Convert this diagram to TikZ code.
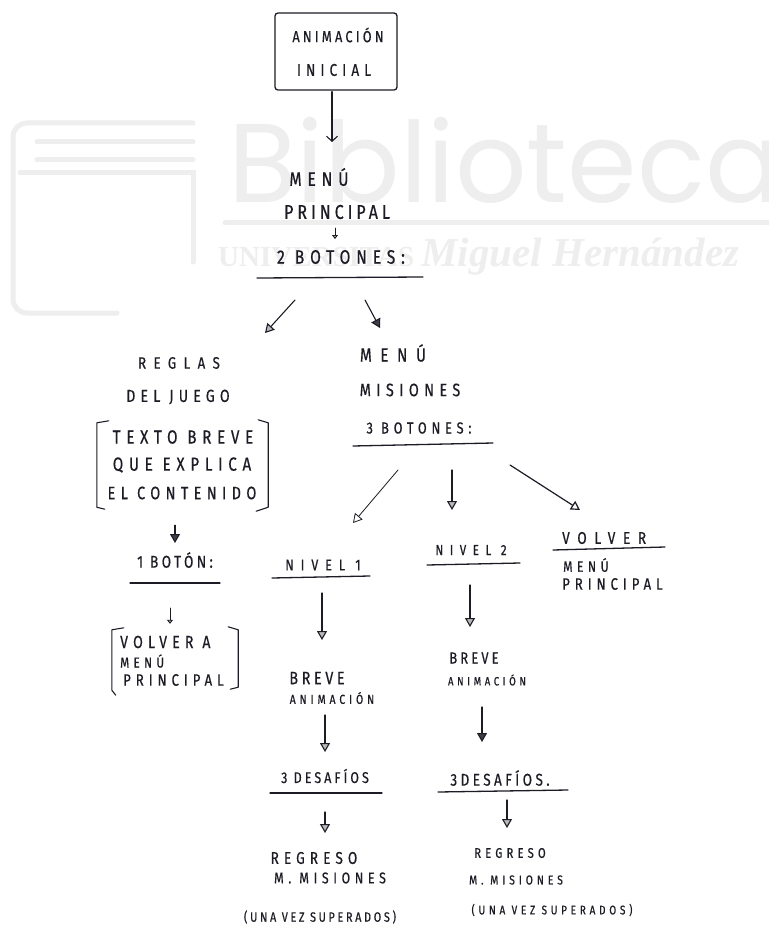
\documentclass[tikz,border=0pt]{standalone}
\usepackage{fontspec}
\usetikzlibrary{arrows.meta,calc}
\newfontfamily\hB[LetterSpace=20,FakeStretch=0.8,FakeBold=0.5]{Fira Sans}
\newfontfamily\hC[LetterSpace=30,FakeStretch=0.8,FakeBold=0.5]{Fira Sans}
\newfontfamily\hD[LetterSpace=45,FakeStretch=0.8,FakeBold=0.5]{Fira Sans}
\newfontfamily\wmsans{Poppins}
\newfontfamily\wmserif{Liberation Serif}
\definecolor{inkc}{RGB}{28,28,38}
\definecolor{wmc}{RGB}{238,238,238}
\tikzset{
  hw/.style 2 args={font=#1\fontsize{#2}{#2}\selectfont, inner sep=0pt, text=inkc},
  ink/.style={draw=inkc, line width=1.1pt, line cap=round, line join=round},
  uline/.style={draw=inkc, line width=1.3pt, line cap=round},
  tri/.style={ink, -{Triangle[length=9pt,width=10pt,fill=gray!55]}},
  dtri/.style={ink, -{Triangle[length=9pt,width=10pt,fill=inkc!85]}},
  otri/.style={ink, line width=0.8pt, -{Triangle[open,length=9pt,width=10pt]}},
  barb/.style={ink, -{Straight Barb[length=5pt,width=11pt]}},
  tinyarr/.style={ink, line width=0.9pt, -{Triangle[length=4pt,width=6pt,fill=gray!55]}},
  wm/.style={draw=wmc, line width=5pt, line cap=round},
}
\begin{document}
\begin{tikzpicture}[x=1pt,y=-1pt]
\useasboundingbox[fill=white] (0,0) rectangle (768,933);
% watermark
\draw[wm, rounded corners=14pt] (193,123) -- (13,123) -- (13,313) -- (117,313);
\draw[wm] (20,173) -- (193,173) -- (193,262);
\draw[wm] (37,142) -- (193,142);
\draw[wm] (37,160) -- (193,160);
\node[anchor=base west, inner sep=0pt, text=wmc, font=\wmsans\fontsize{112}{112}\selectfont] (wmtitle) at (228,203) {Biblioteca};
\draw[wm] (225,223) -- (768,223);
\node[anchor=base west, inner sep=0pt, text=wmc, font=\wmserif\bfseries\fontsize{29}{29}\selectfont] (wmuni) at (218,266) {UNIVERSITAS \fontsize{41}{41}\selectfont\itshape Miguel Hernández};
% top box
\node[draw=inkc, line width=1.3pt, rounded corners=3pt, minimum width=122pt, minimum height=77pt, inner sep=0pt] (topbox) at (336,51.5) {};
\node[hw={\hB}{16}] (t0a) at (338,35) {ANIMACIÓN};
\node[hw={\hC}{17}] (t0b) at (334,70) {INICIAL};
% menu principal
\node[hw={\hC}{19.5}] (mp1) at (319,177) {MENÚ};
\node[hw={\hB}{20}] (mp2) at (337,212) {PRINCIPAL};
\node[hw={\hC}{19.5}] (bot2) at (341,257) {2 BOTONES:};
\draw[uline] ($(bot2)+(-84,21)$) -- ($(bot2)+(82,20)$);
% reglas
\node[hw={\hD}{16.5}] (rg1) at (179,363) {REGLAS};
\node[hw={\hC}{17.5}] (rg2) at (178,397) {DEL JUEGO};
\node[inner sep=0pt, minimum width=171pt, minimum height=90pt] (rbox) at (182.5,465) {};
\draw[ink] ([xshift=12pt,yshift=-1pt]rbox.north west) -- ([yshift=-3pt]rbox.north west) -- ([yshift=3pt]rbox.south west) -- ([xshift=8pt,yshift=1pt]rbox.south west);
\draw[ink] ([xshift=-10pt]rbox.north east) -- ([yshift=-3pt]rbox.north east) -- ([yshift=3pt]rbox.south east) -- ([xshift=-12pt,yshift=-1pt]rbox.south east);
\node[hw={\hC}{19}] (tx1) at (183,437) {TEXTO BREVE};
\node[hw={\hC}{19}] (tx2) at (182,465) {QUE EXPLICA};
\node[hw={\hC}{18}] (tx3) at (182,493) {EL CONTENIDO};
\node[hw={\hB}{17}] (b1) at (175,560) {1 BOTÓN:};
\draw[uline] ($(b1)+(-45,23)$) -- ($(b1)+(45,23)$);
\node[inner sep=0pt, minimum width=126pt, minimum height=66pt] (vbox) at (175,660) {};
\draw[ink] ([xshift=12pt,yshift=-1pt]vbox.north west) -- ([yshift=-3pt]vbox.north west) -- ([yshift=3pt]vbox.south west) -- ([xshift=4pt,yshift=-2pt]vbox.south west);
\draw[ink] ([xshift=-10pt]vbox.north east) -- ([yshift=-3pt]vbox.north east) -- ([yshift=6pt]vbox.south east) -- ([xshift=-8pt,yshift=4pt]vbox.south east);
\node[hw={\hC}{17.5}, anchor=west] (v1) at (120,642) {VOLVER A};
\node[hw={\hC}{14.5}, anchor=west] (v2) at (120,661) {MENÚ};
\node[hw={\hC}{16.5}, anchor=west] (v3) at (123,680) {PRINCIPAL};
% menu misiones
\node[hw={\hD}{19}] (mm1) at (393,353) {MENÚ};
\node[hw={\hC}{18}] (mm2) at (410,390) {MISIONES};
\node[hw={\hC}{16}] (bot3) at (419,428) {3 BOTONES:};
\draw[uline] ($(bot3)+(-66,18)$) -- ($(bot3)+(74,15)$);
% level headers
\node[hw={\hD}{15.5}] (n1) at (323,565) {NIVEL 1};
\draw[uline] ($(n1)+(-51,13)$) -- ($(n1)+(47,11)$);
\node[hw={\hD}{14.5}] (n2) at (471,550) {NIVEL 2};
\draw[uline] ($(n2)+(-44,15)$) -- ($(n2)+(49,13)$);
\node[hw={\hD}{17}, anchor=west] (vo1) at (562,538) {VOLVER};
\draw[uline] ($(vo1.west)+(-9,12)$) -- ($(vo1.west)+(103,9)$);
\node[hw={\hC}{15}, anchor=west] (vo2) at (563,565) {MENÚ};
\node[hw={\hC}{16.5}, anchor=west] (vo3) at (562,584) {PRINCIPAL};
% column 1
\node[hw={\hB}{18}] (br1) at (317,678) {BREVE};
\node[hw={\hC}{13}] (an1) at (332,698) {ANIMACIÓN};
\node[hw={\hB}{15.5}] (d1) at (325,776) {3 DESAFÍOS};
\draw[uline] ($(d1)+(-55,17)$) -- ($(d1)+(57,17)$);
\node[hw={\hC}{17}] (r1) at (314,858) {REGRESO};
\node[hw={\hC}{15.5}] (m1) at (330,878) {M. MISIONES};
\node[hw={\hB}{13.5}] (s1) at (320,917) {(UNA VEZ SUPERADOS)};
% column 2
\node[hw={\hB}{16}] (br2) at (474,658) {BREVE};
\node[hw={\hC}{12}] (an2) at (487,680) {ANIMACIÓN};
\node[hw={\hB}{17}] (d2) at (500,778) {3DESAFÍOS.};
\draw[uline] ($(d2)+(-62,14)$) -- ($(d2)+(68,12)$);
\node[hw={\hC}{14}] (r2) at (510,853) {REGRESO};
\node[hw={\hC}{13}] (m2) at (516,880) {M. MISIONES};
\node[hw={\hC}{12.5}] (s2) at (552,910) {(UNA VEZ SUPERADOS)};
% connectors
\draw[barb] ($(topbox.south)+(-4,1)$) -- ($(mp1)+(13,-35)$);
\draw[tinyarr] ($(mp2)+(-2,16)$) -- ($(bot2)+(-6,-18)$);
\draw[tri] ($(bot2)+(-46,43)$) -- ($(rg1)+(86,-30)$);
\draw[dtri] ($(bot2)+(24,43)$) -- ($(mm1)+(-13,-25)$);
\draw[dtri] ($(rbox.south)+(-7.5,15)$) -- ($(b1)+(0,-17)$);
\draw[tinyarr] ($(b1)+(-5,48)$) -- ($(vbox.north)+(-5,-3)$);
\draw[otri] ($(bot3)+(-21,42)$) -- ($(n1)+(30,-42)$);
\draw[tri] ($(bot3)+(33,42)$) -- ($(n2)+(-19,-40)$);
\draw[otri, line width=1.2pt] ($(bot3)+(91,37)$) -- ($(vo1.west)+(18,-28)$);
\draw[tri] ($(n1)+(-1,28)$) -- ($(br1)+(5,-38)$);
\draw[tri] ($(n2)+(-1,35)$) -- ($(br2)+(-4,-31)$);
\draw[tri] ($(an1)+(-7,17)$) -- ($(d1)+(0,-24)$);
\draw[dtri] ($(an2)+(-5,27)$) -- ($(d2)+(-18,-36)$);
\draw[tri] ($(d1)+(0,36)$) -- ($(r1)+(11,-25)$);
\draw[tri] ($(d2)+(7,22)$) -- ($(r2)+(-3,-25)$);
\end{tikzpicture}
\end{document}
